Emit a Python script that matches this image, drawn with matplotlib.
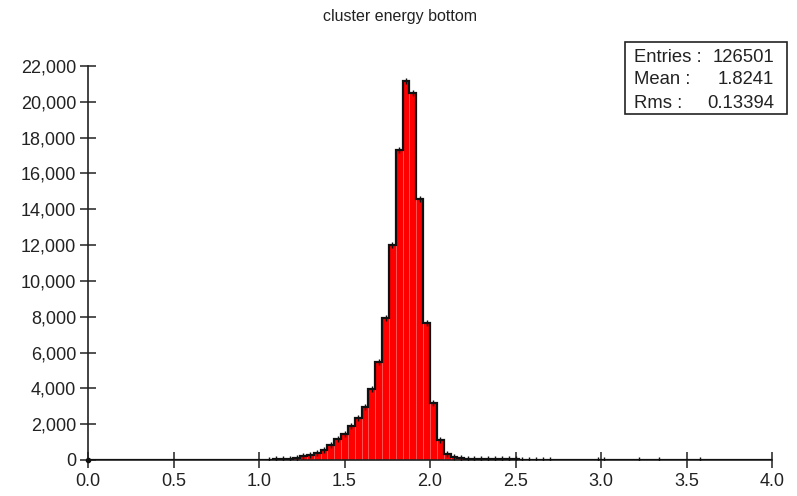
import numpy as np
import matplotlib
matplotlib.use("Agg")
import matplotlib.pyplot as plt
from matplotlib.patches import Rectangle

plt.rcParams['font.family'] = ['Liberation Sans', 'DejaVu Sans']

# histogram: 100 bins from 0.0 to 4.0 (width 0.04)
bin_lo, bin_hi, n_bins = 0.0, 4.0, 100
# non-empty bins: index -> entries
bin_index = [26, 27, 28, 29, 30, 31, 32, 33, 34, 35,
             36, 37, 38, 39, 40, 41, 42, 43, 44, 45,
             46, 47, 48, 49, 50, 51, 52, 53, 54, 55,
             56, 57, 58, 59, 60, 61, 62, 63, 64, 65,
             66, 67, 74, 75, 80, 83, 89]
bin_counts = [25, 30, 40, 60, 120, 200, 290, 380, 570, 810,
              1150, 1470, 1880, 2340, 2960, 3950, 5480, 7920, 11980, 17310,
              21160, 20500, 14600, 7640, 3210, 1090, 350, 160, 90, 70,
              60, 50, 45, 40, 35, 30, 30, 25, 25, 20,
              20, 15, 10, 10, 5, 5, 5]

title = "cluster energy bottom"
stat_labels = ["Entries :", "Mean :", "Rms :"]
stat_values = ["126501", "1.8241", "0.13394"]
x_ticks = [0.0, 0.5, 1.0, 1.5, 2.0, 2.5, 3.0, 3.5, 4.0]
y_ticks = list(range(0, 22001, 2000))

edges = np.linspace(bin_lo, bin_hi, n_bins + 1)
counts = np.zeros(n_bins)
counts[bin_index] = bin_counts
centers = 0.5 * (edges[:-1] + edges[1:])

W, H = 797, 496
fig = plt.figure(figsize=(W / 100, H / 100), dpi=100)
ax = fig.add_axes([88 / W, 1 - 460 / H, (772 - 88) / W, (460 - 66) / H])

# filled bars, light seams between bins
ax.bar(centers, counts, width=edges[1] - edges[0], color='#ff0000',
       edgecolor='#ff5a5a', linewidth=0.6, zorder=2)
# black outline
ax.stairs(counts, edges, color='#111111', linewidth=1.6, zorder=3)
# small marks at the top of each filled bin
nz = counts > 0
ax.plot(centers[nz], counts[nz], '|', color='#111111', ms=5, mew=1.0, zorder=4)
ax.plot([0], [0], 'o', color='#111111', ms=3, clip_on=False, zorder=5)

ax.set_xlim(bin_lo, bin_hi)
ax.set_ylim(0, 22000)
ax.set_xticks(x_ticks)
ax.set_xticklabels([f"{v:.1f}" for v in x_ticks])
ax.set_yticks(y_ticks)
ax.set_yticklabels([f"{v:,}" for v in y_ticks])

for s in ['top', 'right']:
    ax.spines[s].set_visible(False)
for s in ['left', 'bottom']:
    ax.spines[s].set_linewidth(1.2)
    ax.spines[s].set_color('#222222')
ax.tick_params(direction='inout', length=11, width=1.1, color='#222222',
               labelsize=13, labelcolor='#222222')
ax.tick_params(axis='y', pad=3)
ax.tick_params(axis='x', pad=4)

fig.text(0.502, 1 - 17 / H, title, ha='center', va='center', fontsize=11.5,
         color='#222222')

# statistics box
fig.patches.append(Rectangle((625 / W, 1 - 114 / H), 162 / W, 72 / H,
                             transform=fig.transFigure, fill=False,
                             edgecolor='#222222', linewidth=1.2))
for i, (lab, val) in enumerate(zip(stat_labels, stat_values)):
    yy = 1 - (57 + 23 * i) / H
    fig.text(634 / W, yy, lab, ha='left', va='center', fontsize=13.3, color='#222222')
    fig.text(774 / W, yy, val, ha='right', va='center', fontsize=13.3, color='#222222')

fig.savefig("out.png", dpi=100)
